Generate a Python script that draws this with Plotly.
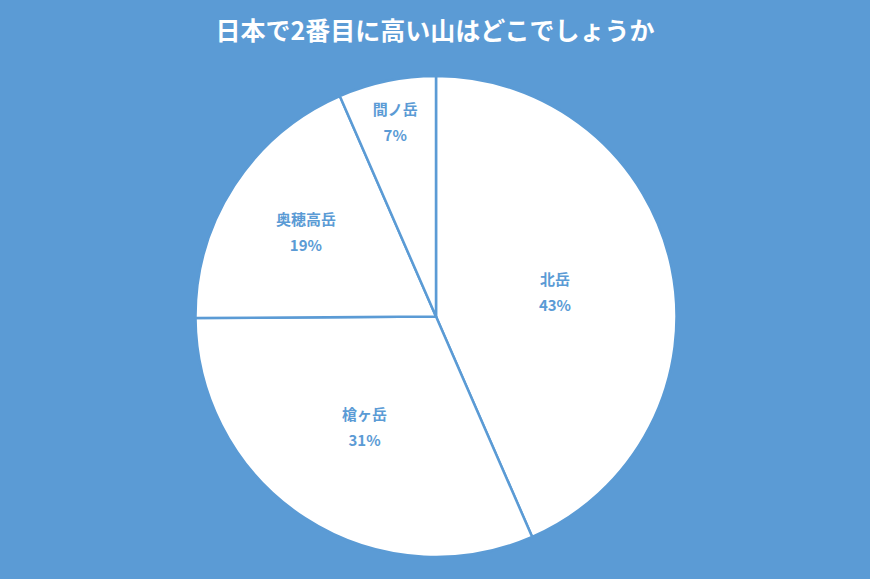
import plotly.graph_objs as go

# 日本で2番目に高い山 アンケート結果 (%)
mountains = ['北岳', '槍ヶ岳', '奥穂高岳', '間ノ岳']
shares = [43.45, 31.45, 18.55, 6.55]

title_text = '日本で2番目に高い山はどこでしょうか'

bg_blue = '#5B9BD5'
font_family = 'Noto Sans CJK JP'


def build_figure() -> go.Figure:
    # base font 20 gives the wider line gap, the spans draw the text at 15px
    line_fmt = '<span style="font-size:15px"><b>{}</b></span>'
    pie = go.Pie(
        labels=mountains,
        values=shares,
        sort=False,
        direction='clockwise',
        rotation=0,
        hole=0,
        marker={'colors': ['white'] * len(mountains),
                'line': {'color': bg_blue, 'width': 2.5}},
        texttemplate=line_fmt.format('%{label}') + '<br>' + line_fmt.format('%{percent:.0%}'),
        textposition='inside',
        insidetextorientation='horizontal',
        insidetextfont={'color': bg_blue, 'size': 20, 'family': font_family},
        hoverinfo='label+percent',
        showlegend=False,
    )
    fig = go.Figure(
        data=[pie],
        layout=go.Layout(
            width=870,
            height=579,
            paper_bgcolor=bg_blue,
            plot_bgcolor=bg_blue,
            margin={'l': 2, 'r': 0, 't': 76, 'b': 22},
            font={'family': font_family},
            title={
                'text': f'<b>{title_text}</b>',
                'x': 0.5,
                'xanchor': 'center',
                'y': 1 - 31 / 579,
                'yanchor': 'middle',
                'yref': 'container',
                'font': {'color': 'white', 'size': 25, 'family': font_family},
            },
        )
    )
    return fig


if __name__ == '__main__':
    fig = build_figure()
    # drop the page's default body margin so the chart fills the window
    fig.write_html('out.html', config={'displayModeBar': False},
                   post_script="document.body.style.margin='0';")
